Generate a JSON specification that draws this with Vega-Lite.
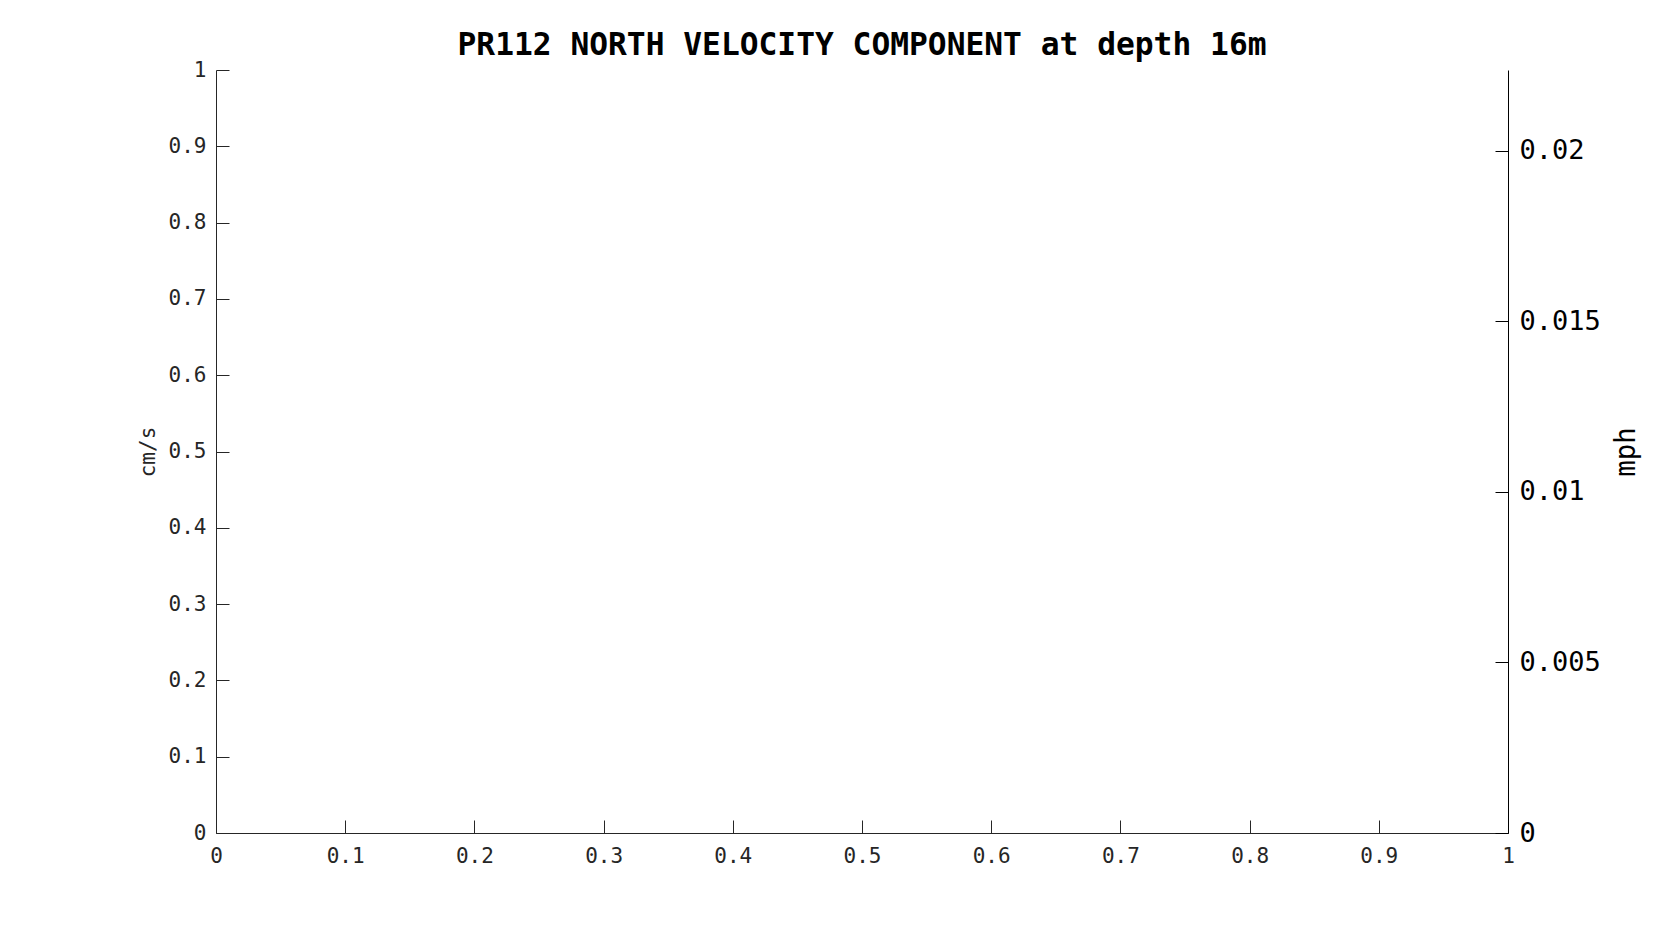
{
  "$schema": "https://vega.github.io/schema/vega-lite/v6.json",
  "width": 1292,
  "height": 763,
  "autosize": {"type": "none"},
  "padding": {"left": 216, "top": 70, "right": 159, "bottom": 105},
  "background": "white",
  "config": {
    "view": {"stroke": null},
    "font": "DejaVu Sans Mono",
    "axis": {"grid": false, "labelFont": "DejaVu Sans Mono", "titleFont": "DejaVu Sans Mono", "titleFontWeight": "normal"}
  },
  "title": {
    "text": "PR112 NORTH VELOCITY COMPONENT at depth 16m",
    "font": "DejaVu Sans Mono",
    "fontSize": 31.25,
    "fontWeight": "bold",
    "color": "#000000",
    "anchor": "middle",
    "offset": -2
  },
  "data": {"values": []},
  "layer": [
    {
      "mark": {"type": "point", "opacity": 0},
      "encoding": {
        "x": {
          "field": "x", "type": "quantitative",
          "scale": {"domain": [0, 1], "nice": false, "zero": false},
          "axis": {
            "title": null, "orient": "bottom",
            "values": [0, 0.1, 0.2, 0.3, 0.4, 0.5, 0.6, 0.7, 0.8, 0.9, 1],
            "format": "~g",
            "domainColor": "#262626", "tickColor": "#262626", "labelColor": "#262626",
            "tickSize": -13, "labelPadding": 25, "labelFontSize": 21,
            "labelFlush": false, "labelOverlap": false
          }
        },
        "y": {
          "field": "cms", "type": "quantitative",
          "scale": {"domain": [0, 1], "nice": false, "zero": false},
          "axis": {
            "title": "cm/s", "orient": "left",
            "values": [0, 0.1, 0.2, 0.3, 0.4, 0.5, 0.6, 0.7, 0.8, 0.9, 1],
            "format": "~g",
            "domainColor": "#262626", "tickColor": "#262626", "labelColor": "#262626", "titleColor": "#262626",
            "tickSize": -13, "labelPadding": 23, "labelFontSize": 21,
            "titleFontSize": 21, "titlePadding": 10,
            "labelFlush": false, "labelOverlap": false
          }
        }
      }
    },
    {
      "mark": {"type": "point", "opacity": 0},
      "encoding": {
        "y": {
          "field": "mph", "type": "quantitative",
          "scale": {"domain": [0, 0.0223694], "nice": false, "zero": false},
          "axis": {
            "title": "mph", "orient": "right",
            "values": [0, 0.005, 0.01, 0.015, 0.02],
            "format": "~g",
            "domainColor": "#000000", "tickColor": "#000000", "labelColor": "#000000", "titleColor": "#000000",
            "tickSize": -13, "labelPadding": 24, "labelFontSize": 27,
            "titleFontSize": 27.5, "titlePadding": 40, "titleAngle": 270,
            "labelFlush": false, "labelOverlap": false
          }
        }
      }
    }
  ],
  "resolve": {"scale": {"y": "independent"}, "axis": {"y": "independent"}}
}
